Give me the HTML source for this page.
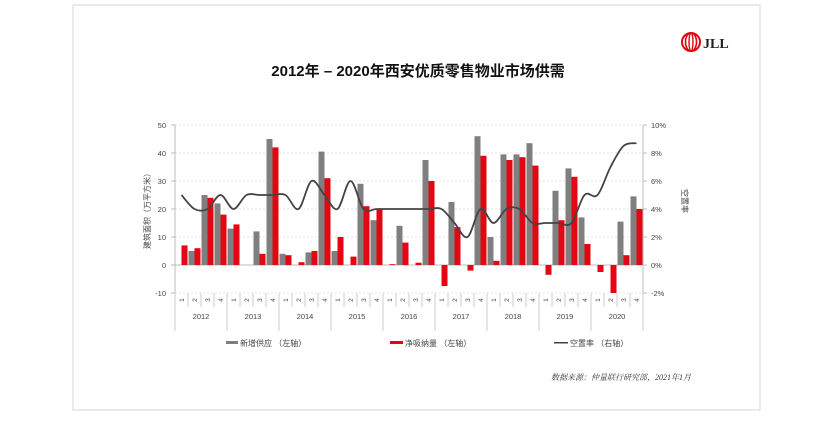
<!DOCTYPE html>
<html><head><meta charset="utf-8"><style>
body{margin:0;background:#fff;width:833px;height:417px;overflow:hidden;font-family:"Liberation Sans","Noto Sans CJK SC",sans-serif}
</style></head><body>
<svg id="c" width="833" height="417" xmlns="http://www.w3.org/2000/svg">
<rect x="73" y="5" width="687" height="405" fill="#fff" stroke="#d6d6d6"/>
<text x="418" y="76" text-anchor="middle" font-size="15" font-weight="bold" fill="#111" font-family="Liberation Sans,Noto Sans CJK SC,sans-serif">2012年 – 2020年西安优质零售物业市场供需</text>
<g>
<ellipse cx="691" cy="42" rx="9" ry="9" fill="none" stroke="#e30613" stroke-width="2"/>
<ellipse cx="691" cy="42" rx="5.5" ry="9" fill="none" stroke="#e30613" stroke-width="1.6"/>
<ellipse cx="691" cy="42" rx="2" ry="9" fill="none" stroke="#e30613" stroke-width="1.4"/>
<text x="703" y="48" font-size="14" font-weight="bold" fill="#222" font-family="Liberation Serif,serif">JLL</text>
</g>
<g id="plot"></g>
<g>
<rect x="226" y="341" width="12" height="3" fill="#7f7f7f"/>
<text x="240" y="346" font-size="8" fill="#444">新增供应 （左轴）</text>
<rect x="390" y="341" width="13" height="3" fill="#e30613"/>
<text x="405" y="346" font-size="8" fill="#444">净吸纳量 （左轴）</text>
<rect x="554" y="342" width="14" height="1.5" fill="#444"/>
<text x="570" y="346" font-size="8" fill="#444">空置率 （右轴）</text>
</g>
<text x="551" y="380" font-size="8" font-style="italic" fill="#333" font-family="Liberation Serif,Noto Serif CJK SC,serif">数据来源：仲量联行研究部，2021年1月</text>
</svg>
<script>
const years=["2012","2013","2014","2015","2016","2017","2018","2019","2020"];
const supply=[0,5,25,22, 13,0,12,45, 4,0,4.5,40.5, 5,0,29,16, 0,14,0,37.5, 0,22.5,0,46, 10,39.5,39.5,43.5, 0,26.5,34.5,17, 0,0,15.5,24.5];
const absorption=[7,6,24,18, 14.5,0,4,42, 3.5,1,5,31, 10,3,21,20, 0.3,8,0.8,30, -7.5,13.5,-2,39, 1.5,37.5,38.5,35.5, -3.5,16,31.5,7.5, -2.5,-10,3.5,20];
const vacancy=[5,4,4,5, 4,5,5,5, 5,4,6,5, 4,6,4,4, 4,4,4,4, 4,3,2,4, 3,4,4,3, 3,3,3,5, 5,7,8.5,8.7];
const leftTicks=[-10,0,10,20,30,40,50];
const rightTicks=[-2,0,2,4,6,8,10];
const NS="http://www.w3.org/2000/svg";
const g=document.getElementById('plot');
const X0=175,X1=643,Y0=125,Y1=293;
const slot=(X1-X0)/supply.length;
const yL=v=>Y0+(50-v)/60*(Y1-Y0);
const yR=v=>Y0+(10-v)/12*(Y1-Y0);
function mk(t,a,p){const e=document.createElementNS(NS,t);for(const k in a)e.setAttribute(k,a[k]);(p||g).appendChild(e);return e;}
leftTicks.forEach(v=>{
 const y=yL(v);
 const gl=mk('line',{x1:X0,x2:X1,y1:y,y2:y,stroke:v===0?'#bbb':'#e3e3e3','stroke-dasharray':v===0?'':'2,2'});
 
 
 const t=mk('text',{x:X0-9,y:y+3,'text-anchor':'end','font-size':7.5,fill:'#444'});t.textContent=v;
 
 
});
rightTicks.forEach(v=>{
 const y=yR(v);
 mk('line',{x1:X1,x2:X1+4,y1:y,y2:y,stroke:'#bbb'});
 const t=mk('text',{x:X1+8,y:y+3,'font-size':7.5,fill:'#444'});t.textContent=v+'%';
 
 
});
mk('line',{x1:X0,x2:X0,y1:Y0,y2:Y1,stroke:'#bbb'});
mk('line',{x1:X1,x2:X1,y1:Y0,y2:Y1,stroke:'#bbb'});
leftTicks.forEach(v=>mk('line',{x1:X0-4,x2:X0,y1:yL(v),y2:yL(v),stroke:'#bbb'}));
supply.forEach((v,i)=>{
 const x=X0+i*slot;
 if(v!==0){const r=mk('rect',{x:x+0.5,y:Math.min(yL(v),yL(0)),width:6,height:Math.abs(yL(v)-yL(0)),fill:'#7f7f7f'});
 
 }
 const a=absorption[i];
 if(a!==0){const r2=mk('rect',{x:x+6.5,y:Math.min(yL(a),yL(0)),width:6,height:Math.abs(yL(a)-yL(0)),fill:'#e30613'});
 
 }
 mk('line',{x1:x,x2:x,y1:Y1,y2:Y1+14,stroke:'#ccc'});
 const q=mk('text',{transform:`translate(${x+slot/2+2.5},${Y1+7}) rotate(-90)`,'text-anchor':'middle','font-size':6.5,fill:'#444'});q.textContent=(i%4)+1;
 
 
});
years.forEach((yr,j)=>{
 const x=X0+j*4*slot;
 mk('line',{x1:x,x2:x,y1:Y1,y2:Y1+38,stroke:'#ccc'});
 const t=mk('text',{x:x+2*slot,y:Y1+26,'text-anchor':'middle','font-size':7.5,fill:'#444'});t.textContent=yr;
 
 
});
mk('line',{x1:X1,x2:X1,y1:Y1,y2:Y1+38,stroke:'#ccc'});
const pts=vacancy.map((v,i)=>[X0+i*slot+slot/2,yR(v)]);
let d=`M${pts[0][0]},${pts[0][1]}`;
for(let i=0;i<pts.length-1;i++){
 const p0=pts[Math.max(0,i-1)],p1=pts[i],p2=pts[i+1],p3=pts[Math.min(pts.length-1,i+2)];
 d+=` C${p1[0]+(p2[0]-p0[0])/6},${p1[1]+(p2[1]-p0[1])/6} ${p2[0]-(p3[0]-p1[0])/6},${p2[1]-(p3[1]-p1[1])/6} ${p2[0]},${p2[1]}`;
}
const ln=mk('path',{d:d,fill:'none',stroke:'#444','stroke-width':1.8});


const yt=mk('text',{transform:`translate(150,${(Y0+Y1)/2}) rotate(-90)`,'text-anchor':'middle','font-size':8,fill:'#444'});yt.textContent='建筑面积（万平方米）';


const yt2=mk('text',{transform:`translate(682,${(Y0+Y1)/2-8}) rotate(90)`,'text-anchor':'middle','font-size':8,fill:'#444'});yt2.textContent='空置率';


</script>
</body></html>
